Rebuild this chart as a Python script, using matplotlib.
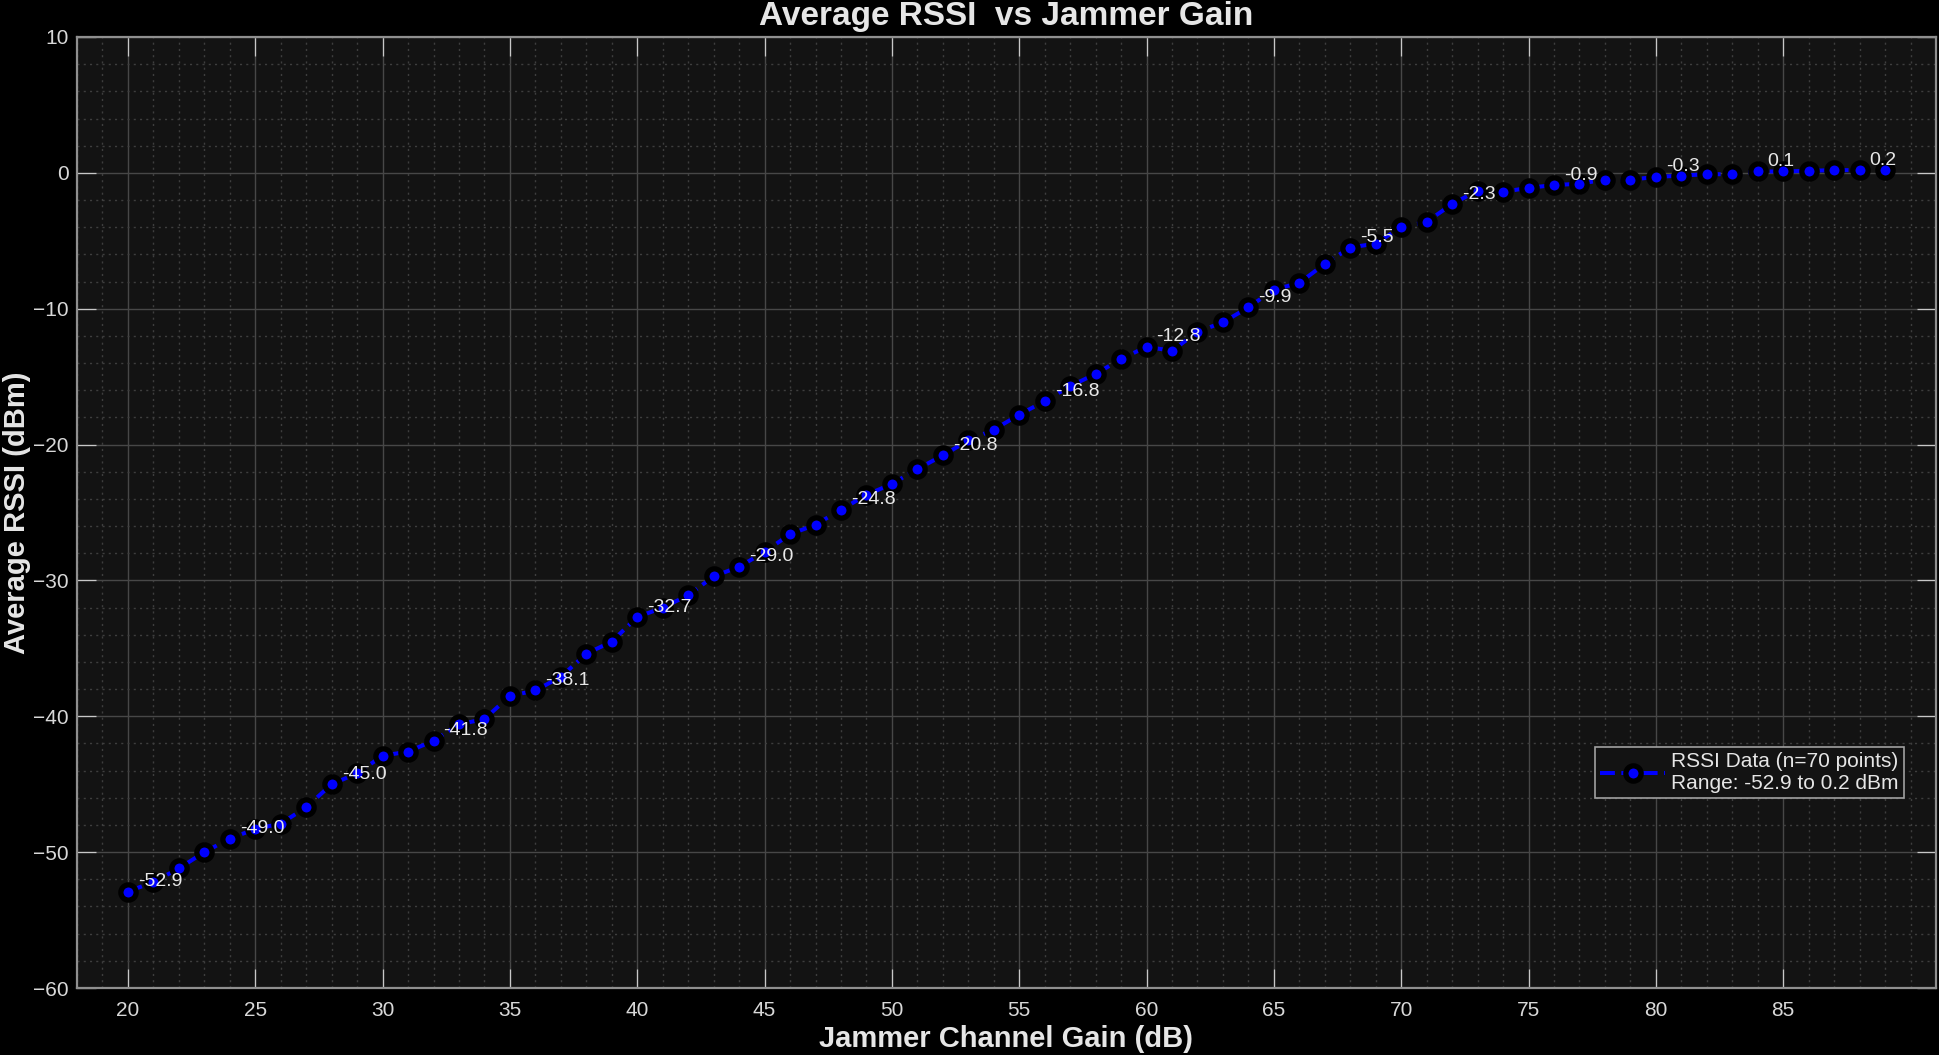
import matplotlib
matplotlib.use("Agg")
import matplotlib.pyplot as plt
from matplotlib.ticker import MultipleLocator, FixedLocator
import numpy as np

# ---- data ----
jammer_gain = list(range(20, 90))  # 70 points, dB
avg_rssi = [
    -52.9, -52.2, -51.2, -50.0, -49.0, -48.3, -47.9, -46.7, -45.0, -44.2,
    -42.9, -42.6, -41.8, -40.6, -40.2, -38.5, -38.1, -37.1, -35.4, -34.5,
    -32.7, -32.0, -31.1, -29.7, -29.0, -27.9, -26.6, -25.9, -24.8, -23.7,
    -22.9, -21.8, -20.8, -19.7, -18.9, -17.8, -16.8, -15.7, -14.8, -13.7,
    -12.8, -13.1, -11.7, -11.0, -9.9, -8.6, -8.1, -6.7, -5.5, -5.2,
    -4.0, -3.6, -2.3, -1.3, -1.4, -1.1, -0.9, -0.8, -0.5, -0.5,
    -0.3, -0.2, -0.1, -0.1, 0.1, 0.1, 0.15, 0.2, 0.2, 0.2,
]
label_step = 4
x_ticks = [20, 25, 30, 35, 40, 45, 50, 55, 60, 65, 70, 75, 80, 85]
y_ticks = [-60, -50, -40, -30, -20, -10, 0, 10]
title = "Average RSSI  vs Jammer Gain"
xlabel = "Jammer Channel Gain (dB)"
ylabel = "Average RSSI (dBm)"

plt.rcParams['font.family'] = ['Liberation Sans', 'DejaVu Sans']

W, H = 1940, 1055
fig = plt.figure(figsize=(W / 100, H / 100), dpi=100, facecolor='black')
ax_l, ax_r, ax_t, ax_b = 77, 1936, 37, 988
ax = fig.add_axes([ax_l / W, 1 - ax_b / H, (ax_r - ax_l) / W, (ax_b - ax_t) / H])
ax.set_facecolor('#131313')

n = len(avg_rssi)
leg_label = (f"RSSI Data (n={n} points)\n"
             f"Range: {min(avg_rssi):.1f} to {max(avg_rssi):.1f} dBm")
ax.plot(jammer_gain, avg_rssi, linestyle='--', color='#0000ff', linewidth=2.9,
        marker='o', markersize=11, markerfacecolor='#0000ff',
        markeredgecolor='black', markeredgewidth=3.8, zorder=3,
        label=leg_label)

for i in range(0, n, label_step):
    ax.annotate(f"{avg_rssi[i]:.1f}", (jammer_gain[i], avg_rssi[i]),
                xytext=(10, 10), textcoords='offset pixels',
                ha='left', va='center', fontsize=14, color='#e8e8e8',
                zorder=5)

ax.set_xlim(18, 91)
ax.set_ylim(-60, 10)
ax.xaxis.set_major_locator(FixedLocator(x_ticks))
ax.yaxis.set_major_locator(FixedLocator(y_ticks))
ax.xaxis.set_minor_locator(MultipleLocator(1))
ax.yaxis.set_minor_locator(MultipleLocator(2))

ax.grid(which='major', color='#474747', linewidth=1.0, linestyle='-', zorder=0)
ax.grid(which='minor', color='#3e3e3e', linewidth=1.0, linestyle=(0, (1.5, 3)), zorder=0)
ax.set_axisbelow(True)

ax.tick_params(which='major', direction='in', length=13.7, width=0.9,
               color='#c8c8c8', labelcolor='#d8d8d8', labelsize=15,
               top=True, right=True)
ax.tick_params(axis='x', which='major', pad=9)
ax.tick_params(axis='y', which='major', pad=6)
ax.tick_params(which='minor', length=0)
for s in ax.spines.values():
    s.set_color('#8f8f8f')
    s.set_linewidth(1.6)

ax.set_title(title, fontsize=24, fontweight='bold', color='#e6e6e6', pad=8.6)
ax.set_xlabel(xlabel, fontsize=21, fontweight='bold', color='#e6e6e6', va='baseline')
ax.xaxis.set_label_coords(0.5, -(1047 - ax_b) / (ax_b - ax_t))
ax.set_ylabel(ylabel, fontsize=21, fontweight='bold', color='#e6e6e6', va='baseline')
ax.yaxis.set_label_coords((25 - ax_l) / (ax_r - ax_l), 0.5)

leg = ax.legend(loc='lower right', bbox_to_anchor=(1904 / W, 1 - 798 / H),
                bbox_transform=fig.transFigure, borderaxespad=0,
                fontsize=15, handlelength=3.1, handletextpad=0.3,
                borderpad=0.25, fancybox=False, framealpha=1,
                facecolor='#131313', edgecolor='#a0a0a0', labelcolor='#e6e6e6')
leg.get_frame().set_linewidth(1.2)

fig.savefig('out.png', dpi=100, facecolor='black')
